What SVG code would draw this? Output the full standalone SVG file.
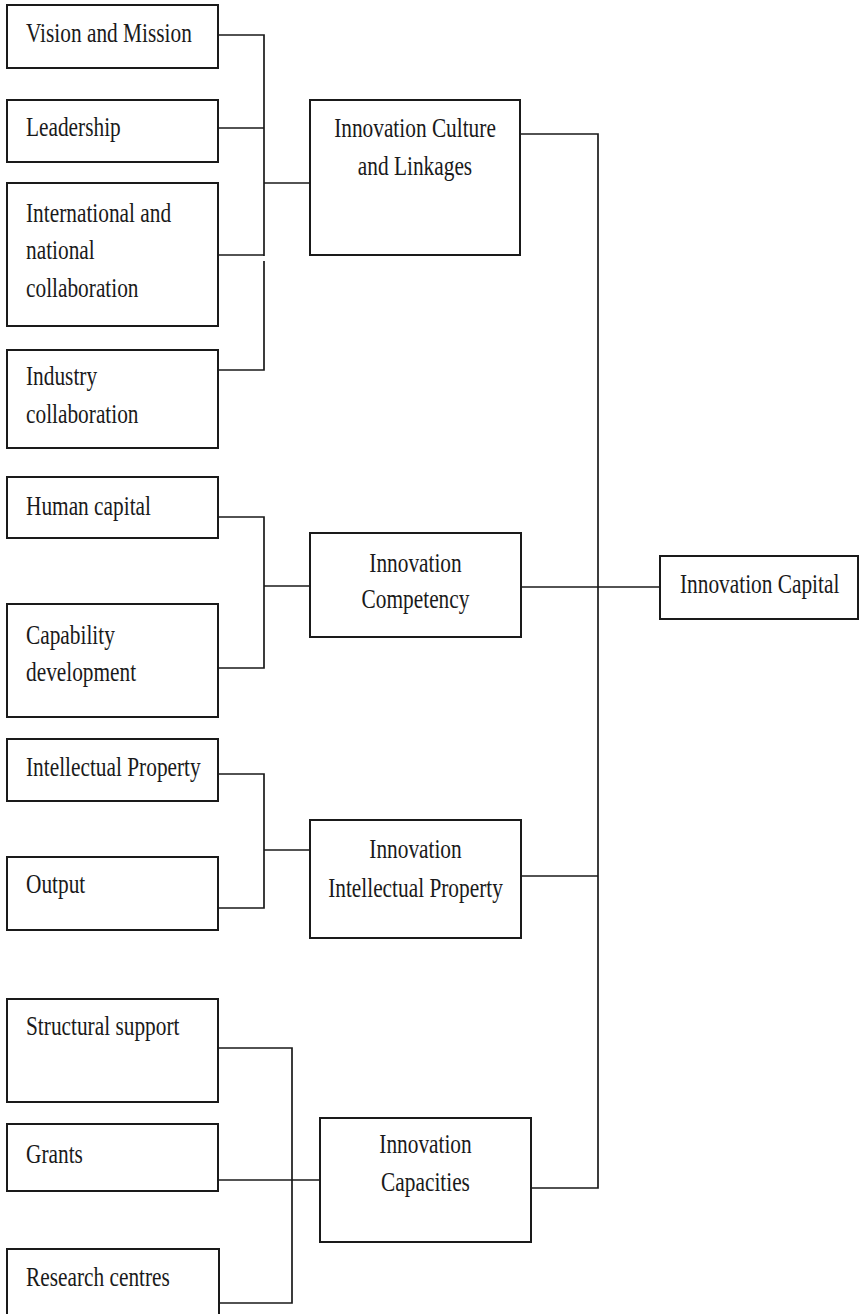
<svg xmlns="http://www.w3.org/2000/svg" width="862" height="1314" viewBox="0 0 862 1314">
<style>
.box{fill:#fff;stroke:#1a1a1a;stroke-width:2}
.ln{fill:none;stroke:#1a1a1a;stroke-width:1.7}
text{font-family:"Liberation Serif","Times New Roman",serif;font-size:27px;fill:#1a1a1a}
.c{text-anchor:middle}
</style>
<rect width="862" height="1314" fill="#fff"/>
<g id="connectors">
<path class="ln" d="M218,35 H264 V256"/>
<path class="ln" d="M218,128 H264"/>
<path class="ln" d="M218,255 H264"/>
<path class="ln" d="M264,183 H310"/>
<path class="ln" d="M218,370 H264 V261"/>
<path class="ln" d="M218,517 H264 V668 H218"/>
<path class="ln" d="M264,586 H310"/>
<path class="ln" d="M218,774 H264 V908 H218"/>
<path class="ln" d="M264,850 H310"/>
<path class="ln" d="M218,1048 H292 V1303 H218"/>
<path class="ln" d="M218,1180 H320"/>
<path class="ln" d="M521,134 H598 V1188 H531"/>
<path class="ln" d="M521,587 H660"/>
<path class="ln" d="M521,876 H598"/>
</g>
<g id="vision"><rect class="box" x="7" y="5" width="211" height="63"/><text transform="translate(26,42) scale(0.79,1)">Vision and Mission</text></g>
<g id="leadership"><rect class="box" x="7" y="100" width="211" height="62"/><text transform="translate(26,136) scale(0.79,1)">Leadership</text></g>
<g id="international"><rect class="box" x="7" y="183" width="211" height="143"/><text transform="translate(26,222) scale(0.79,1)"><tspan x="0" y="0">International and</tspan><tspan x="0" y="37.5">national</tspan><tspan x="0" y="75">collaboration</tspan></text></g>
<g id="industry"><rect class="box" x="7" y="350" width="211" height="98"/><text transform="translate(26,385) scale(0.79,1)"><tspan x="0" y="0">Industry</tspan><tspan x="0" y="38">collaboration</tspan></text></g>
<g id="human"><rect class="box" x="7" y="477" width="211" height="61"/><text transform="translate(26,515) scale(0.79,1)">Human capital</text></g>
<g id="capability"><rect class="box" x="7" y="604" width="211" height="113"/><text transform="translate(26,644) scale(0.79,1)"><tspan x="0" y="0">Capability</tspan><tspan x="0" y="37">development</tspan></text></g>
<g id="ip"><rect class="box" x="7" y="739" width="211" height="62"/><text transform="translate(26,776) scale(0.79,1)">Intellectual Property</text></g>
<g id="output"><rect class="box" x="7" y="857" width="211" height="73"/><text transform="translate(26,893) scale(0.79,1)">Output</text></g>
<g id="structural"><rect class="box" x="7" y="999" width="211" height="103"/><text transform="translate(26,1035) scale(0.79,1)">Structural support</text></g>
<g id="grants"><rect class="box" x="7" y="1124" width="211" height="67"/><text transform="translate(26,1163) scale(0.79,1)">Grants</text></g>
<g id="research"><rect class="box" x="7" y="1249" width="212" height="75"/><text transform="translate(26,1286) scale(0.79,1)">Research centres</text></g>
<g id="culture"><rect class="box" x="310" y="100" width="210" height="155"/><text class="c" transform="translate(415,137) scale(0.79,1)"><tspan x="0" y="0">Innovation Culture</tspan><tspan x="0" y="38">and Linkages</tspan></text></g>
<g id="competency"><rect class="box" x="310" y="533" width="211" height="104"/><text class="c" transform="translate(415.5,572) scale(0.79,1)"><tspan x="0" y="0">Innovation</tspan><tspan x="0" y="36">Competency</tspan></text></g>
<g id="iip"><rect class="box" x="310" y="820" width="211" height="118"/><text class="c" transform="translate(415.5,858) scale(0.79,1)"><tspan x="0" y="0">Innovation</tspan><tspan x="0" y="39">Intellectual Property</tspan></text></g>
<g id="capacities"><rect class="box" x="320" y="1118" width="211" height="124"/><text class="c" transform="translate(425.5,1153) scale(0.79,1)"><tspan x="0" y="0">Innovation</tspan><tspan x="0" y="38">Capacities</tspan></text></g>
<g id="capital"><rect class="box" x="660" y="556" width="198" height="63"/><text transform="translate(680,593) scale(0.79,1)">Innovation Capital</text></g>
</svg>
